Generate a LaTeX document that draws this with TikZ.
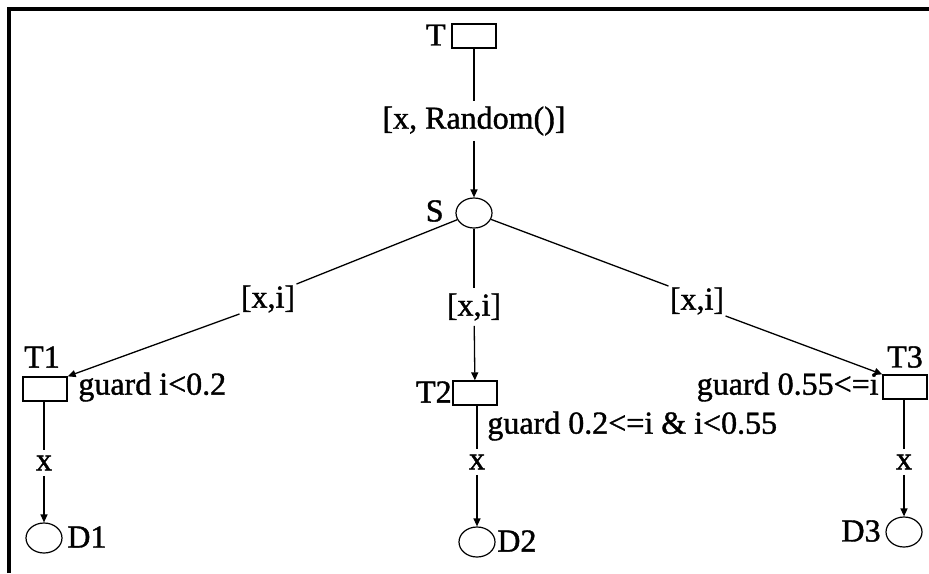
\documentclass[tikz,border=0pt]{standalone}
\usepackage{fontspec}
\setmainfont{Liberation Serif}[FakeBold=1.2]
\usetikzlibrary{arrows.meta,shapes.geometric}
\begin{document}
\begin{tikzpicture}[x=0.5pt,y=-0.5pt,
  every node/.style={font=\fontsize{16}{18}\selectfont},
  trans/.style={draw,line width=0.65pt,rectangle,minimum width=22pt,minimum height=12pt,inner sep=0pt},
  place/.style={draw,line width=0.6pt,ellipse,minimum width=18pt,minimum height=15pt,inner sep=0pt},
  lbl/.style={inner sep=0pt},
  arclbl/.style={inner sep=2.5pt},
  diaglbl/.style={inner sep=0.5pt},
  arc/.style={line width=0.65pt},
  arcarrow/.style={line width=0.65pt,-{Triangle[length=4pt,width=3.5pt]}},
  frame/.style={line width=1.6pt}]
\useasboundingbox (0,0) rectangle (929,573);
\coordinate (fA) at (9,573);
\coordinate (fB) at (9,9);
\coordinate (fC) at (929,9);
\draw[frame] (fA) -- (fB) -- (fC);

% transitions and places
\node[trans] (T) at (474,36) {};
\node[place] (S) at (474,213) {};
\node[trans] (T1) at (45,389) {};
\node[trans] (T2) at (475,393) {};
\node[trans] (T3) at (905,387) {};
\node[place] (D1) at (44,538) {};
\node[place] (D2) at (477,542) {};
\node[place] (D3) at (904,532) {};

% names
\node[lbl,anchor=east] (lT) at (446,35) {T};
\node[lbl,anchor=east] (lS) at (444,211) {S};
\node[lbl] (lT1) at (42,357) {T1};
\node[lbl,anchor=east] (lT2) at (452,392) {T2};
\node[lbl] (lT3) at (905,357) {T3};
\node[lbl,anchor=west] (lD1) at (67,537) {D1};
\node[lbl,anchor=west] (lD2) at (497,541) {D2};
\node[lbl,anchor=east] (lD3) at (881,531) {D3};

% guards
\node[lbl,anchor=west] (g1) at (78,387) {guard i<0.2};
\node[lbl,anchor=west] (g2) at (487,426) {guard 0.2<=i \& i<0.55};
\node[lbl,anchor=east] (g3) at (879,387) {guard 0.55<=i};

% arc labels
\node[arclbl] (a0) at (474,121) {[x, Random()]};
\node[diaglbl] (a1) at (268,299) {[x,i]};
\node[arclbl] (a2) at (474,307) {[x,i]};
\node[diaglbl] (a3) at (697,301) {[x,i]};
\node[arclbl] (x1) at (44,463) {x};
\node[arclbl] (x2) at (477,462) {x};
\node[arclbl] (x3) at (904,462) {x};

% arcs
\draw[arc] (T) -- (a0);
\draw[arcarrow] (a0) -- (S);
\draw[arc] (S) -- (a1.north east);
\draw[arcarrow] (a1.south west) -- (T1.north east);
\draw[arc] (S) -- (a2);
\draw[arcarrow] (a2) -- (T2);
\draw[arc] (T1.south -| x1) -- (x1);
\draw[arcarrow] (x1) -- (D1);
\draw[arc] (S) -- (a3.north west);
\draw[arcarrow] (a3.south east) -- (T3.north west);
\draw[arc] (T2.south -| x2) -- (x2);
\draw[arcarrow] (x2) -- (D2);
\draw[arc] (T3.south -| x3) -- (x3);
\draw[arcarrow] (x3) -- (D3);
\end{tikzpicture}
\end{document}
